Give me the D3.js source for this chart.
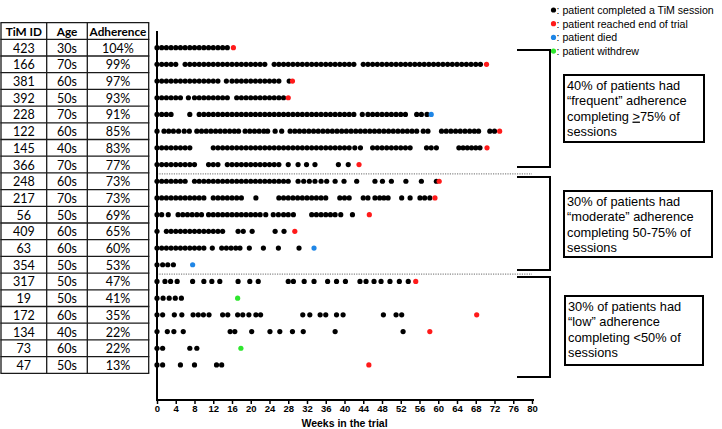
<!DOCTYPE html>
<html>
<head>
<meta charset="utf-8">
<script src="https://cdn.jsdelivr.net/npm/d3@7"></script>
<style>
  body { margin: 0; background: #fff; }
  svg { display: block; }
</style>
</head>
<body>
<svg id="chart" width="722" height="429"></svg>
<script>
// table columns
const patientIds = ["423","166","381","392","228","122","145","366","248","217","56","409","63","354","317","19","172","134","73","47"];
const ageGroups = ["30s","70s","60s","50s","70s","60s","40s","70s","60s","70s","50s","60s","60s","50s","50s","50s","60s","40s","60s","50s"];
const adherence = ["104%","99%","97%","93%","91%","85%","83%","77%","73%","73%","69%","65%","60%","53%","47%","41%","35%","22%","22%","13%"];

// week of each completed TiM session, one list per patient
const sessionWeeks = [
  [0,1,2,3,4,5,6,7,8,9,10,11,12,13,14,15],
  [0,1,2,3,4,6,7,8,9,10,11,12,13,14,15,16,17,18,19,20,21,22,23,25,26,27,28,29,30,31,32,33,34,35,36,37,38,39,40,41,42,44,45,46,47,48,49,50,51,52,53,54,55,56,57,58,59,60,61,62,63,64,65,66,67,68,69],
  [0,1,2,3,4,5,6,7,8,9,10,11,12,13,14.8,16,17,18,19,20,21,22,23,24,25,26,28.2],
  [0,1,2,3,4,5,6.7,8,9,10,11,12,13,14,15,17,18,19,20,21,22,23,24,25,26,27],
  [0,1,2,3,7,9,10,11,12,13,14,15,16,17,18,19,20,21,22,23,24,25,26,27,28,29,30,31,32,33,34,35,36,37,38,39,40,41,42,43.8,45,46,47,48,49,50,51,52,53,55.4,56.4,57.6],
  [0,1.5,2.5,3.5,4.6,5.8,6.9,8.5,9.5,10.5,11.5,12.5,13.5,14.5,15.5,16.5,17.4,18.8,19.8,20.8,21.8,22.8,23.6,25.2,26.6,28.4,29.4,30.4,31.4,32.4,33.4,34.4,35.4,36.4,37.4,38.4,39.4,40.4,41.4,42.4,43.4,44.4,45.4,46.4,47.4,48.4,49.4,50.4,51.4,52.4,53.4,54.4,55.4,56.8,57.8,60.7,61.7,62.7,63.7,64.7,65.7,66.7,67.7,68.6,71,72],
  [0,1,2,3,4,5,6,7,12,13,14,15,16,17,18,19,20,21,22,23,24,25,26,27,28,29,30,31,32,33,34,35,36,37,38,39,40,41,42.2,43.4,46,47,48,49,50,51,52,53,54,57.5,58.5,59.6,64.4,65.3,66.2,67.1,68,68.9],
  [0,1,2,3,4,5,6,7,8,11,12,13,15,16,17,18,19,20,21,22,23,24,25,26,28,30.1,31.9,33.7,38.7,40.8],
  [0,1,2,3,4,5,6,8,9,10,11,12,13,14,15,16,17,18,19,20,21,22,23,24,25,26,27,28,30.1,31.3,32.5,33.7,35,36.2,38,39.9,42.6,46.5,48.1,50,53.1,56.4,59.6],
  [0,1,2,3,4,5,6,7,8,9,10,12,13,14,15,16,17,18,21.1,26,27,28,29,30,31,32,33,34,35,36,39,40,41,44,45,46.5,47.5,48.4,49.3,52.2,54,56.1,57.1,58.2],
  [0,1,2.4,4.5,5.5,6.5,7.5,8.5,9.5,11,12,13,14,15,16,17,18,19,20,21,22,23.2,24.8,25.9,27,28,29.1,33,34,35,36,37,38,39.2,41.7],
  [0,2,3,4,5,6,7,8,9,10,11,12,13,14,17.3,18.4,20.3,25.2,27.1],
  [0,1,2,3,4,5,6,7,8,9,10,11.8,13.8,14.8,15.8,16.8,17.7,19.7,22.7,25.9,30.3],
  [0,1.2,2.3,3.5],
  [0,1.7,2.9,4.3,7.6,10,11.7,13.4,17.3,19.8,21.6,28,29.1,31.4,33.5,36.4,38.3,40.2,43.3,44.6,46.3,47.8,49.7,51.7,53.6],
  [0,1.3,2.6,3.9,5.2],
  [0,1.2,3.7,5.3,7.7,8.8,9.9,11.1,14,15.1,17.2,18.3,19.6,21.1,22.1,31.1,32.6,34.8,36,38.3,39.7,48.3,51,52.2],
  [0,2.2,3.6,5.6,15.6,16.6,20.2,24.1,26.2,28.9,31.2,38,52.5],
  [0,1.2,7,8.5],
  [0,1.2,5,8,12.7,13.8]
];

// last marker per patient
const endWeeks = [16.3,70.3,28.9,28,58.5,73.1,70.4,43.1,60.2,59.3,45.3,29.4,33.5,7.6,55.2,17.2,68.2,58.2,17.9,45.2];
const endOutcome = ["end","end","end","end","died","end","end","end","end","end","end","end","died","died","end","withdrew","end","end","withdrew","end"];

const outcomeKeys = ["session","end","died","withdrew"];
const outcomeLabels = [": patient completed a TiM session",": patient reached end of trial",": patient died",": patient withdrew"];
const outcomeColors = ["#000000","#ff1a1a","#1f86e6","#2ee62e"];

const weekTicks = [0,4,8,12,16,20,24,28,32,36,40,44,48,52,56,60,64,68,72,76,80];

const groupRows = [[0,7],[8,13],[14,19]];
const groupText = [
  [["40% of patients had"],["\u201cfrequent\u201d adherence"],["completing ", ">", "75% of"],["sessions"]],
  [["30% of patients had"],["\u201cmoderate\u201d adherence"],["completing 50-75% of"],["sessions"]],
  [["30% of patients had"],["\u201clow\u201d adherence"],["completing <50% of"],["sessions"]]
];

const svg = d3.select("#chart");
const color = d3.scaleOrdinal().domain(outcomeKeys).range(outcomeColors);

const x = d3.scaleLinear().domain([0, 80]).range([157, 532]);
const y = d3.scaleBand().domain(d3.range(patientIds.length)).range([39.3, 373.3]);
const rowY = i => y(i) + y.bandwidth() / 2;

// ---- table ----
const colEdges = [1, 46.7, 87.3, 148.7];
const headerTop = 22.7;
const table = svg.append("g");
const columns = [patientIds, ageGroups, adherence];
const headers = ["TiM ID", "Age", "Adherence"];

table.selectAll("line.h")
  .data(d3.range(patientIds.length + 2))
  .join("line")
  .attr("x1", colEdges[0] - 0.6).attr("x2", colEdges[3] + 0.6)
  .attr("y1", d => d === 0 ? headerTop : y.range()[0] + (d - 1) * y.bandwidth())
  .attr("y2", d => d === 0 ? headerTop : y.range()[0] + (d - 1) * y.bandwidth())
  .attr("stroke", "#1a1a1a").attr("stroke-width", 1.3);

table.selectAll("line.v")
  .data(colEdges)
  .join("line")
  .attr("x1", d => d).attr("x2", d => d)
  .attr("y1", headerTop).attr("y2", y.range()[1])
  .attr("stroke", "#1a1a1a").attr("stroke-width", 1.3);

headers.forEach((h, c) => {
  const cx = (colEdges[c] + colEdges[c + 1]) / 2;
  table.append("text")
    .attr("x", cx).attr("y", headerTop + y.bandwidth() / 2)
    .attr("text-anchor", "middle").attr("dominant-baseline", "central")
    .attr("font-family", "Lato, sans-serif").attr("font-weight", "bold")
    .attr("font-size", 11.8).text(h);
  table.append("g").selectAll("text")
    .data(columns[c])
    .join("text")
    .attr("x", cx).attr("y", (d, i) => rowY(i) + 0.5)
    .attr("text-anchor", "middle").attr("dominant-baseline", "central")
    .attr("font-family", "Lato, sans-serif").attr("font-size", 12.5)
    .text(d => d);
});

// ---- separators between groups ----
svg.append("g").selectAll("line")
  .data(groupRows.slice(1))
  .join("line")
  .attr("x1", x(0)).attr("x2", x(80))
  .attr("y1", d => y(d[0]) + 1).attr("y2", d => y(d[0]) + 1)
  .attr("stroke", "#444").attr("stroke-width", 0.8)
  .attr("stroke-dasharray", "1.2,1.2");

// ---- dots ----
const rows = svg.append("g")
  .selectAll("g")
  .data(sessionWeeks)
  .join("g")
  .attr("transform", (d, i) => `translate(0,${rowY(i)})`);

rows.selectAll("circle")
  .data(d => d)
  .join("circle")
  .attr("cx", d => x(d))
  .attr("r", 2.6)
  .attr("fill", color("session"));

svg.append("g").selectAll("circle")
  .data(endWeeks)
  .join("circle")
  .attr("cx", d => x(d))
  .attr("cy", (d, i) => rowY(i))
  .attr("r", 2.6)
  .attr("fill", (d, i) => color(endOutcome[i]));

// ---- axes ----
const xAxis = d3.axisBottom(x).tickValues(weekTicks).tickSize(4).tickSizeOuter(0);
const axisG = svg.append("g")
  .attr("transform", "translate(0,400)")
  .call(xAxis);
axisG.select(".domain").attr("stroke-width", 2).attr("d", `M${x(0) - 1},0H${x(80) + 2}`);
axisG.selectAll(".tick line").attr("stroke-width", 1.5);
axisG.selectAll(".tick text")
  .attr("font-family", "Liberation Sans, Arial, sans-serif")
  .attr("font-weight", "bold").attr("font-size", 9.5).attr("dy", "0.55em")
  .attr("fill", "#000");

svg.append("line")
  .attr("x1", x(0)).attr("x2", x(0))
  .attr("y1", 31).attr("y2", 401)
  .attr("stroke", "#000").attr("stroke-width", 2);

svg.append("text")
  .attr("x", x(40)).attr("y", 427)
  .attr("text-anchor", "middle")
  .attr("font-family", "Liberation Sans, Arial, sans-serif")
  .attr("font-weight", "bold").attr("font-size", 10.5)
  .text("Weeks in the trial");

// ---- legend ----
const legend = svg.append("g").selectAll("g")
  .data(outcomeKeys)
  .join("g")
  .attr("transform", (d, i) => `translate(553.5,${10 + i * 13.7})`);
legend.append("circle").attr("r", 2.6).attr("fill", d => color(d));
legend.append("text")
  .attr("x", 3).attr("dominant-baseline", "central")
  .attr("font-family", "Liberation Sans, Arial, sans-serif")
  .attr("font-size", 10.6)
  .text((d, i) => outcomeLabels[i]);

// ---- brackets and boxes ----
const bracketY = [[50, 167], [177, 270], [277, 377]];
const boxes = [[564, 75, 704, 142], [564, 191, 712, 257], [565, 296, 703, 365]];

bracketY.forEach((b, k) => {
  svg.append("path")
    .attr("d", `M517,${b[0]}H550V${b[1]}H517`)
    .attr("fill", "none").attr("stroke", "#000").attr("stroke-width", 2);

  const bx = boxes[k];
  svg.append("rect")
    .attr("x", bx[0]).attr("y", bx[1])
    .attr("width", bx[2] - bx[0]).attr("height", bx[3] - bx[1])
    .attr("fill", "#fff").attr("stroke", "#000").attr("stroke-width", 2);

  const t = svg.append("text")
    .attr("font-family", "Liberation Sans, Arial, sans-serif")
    .attr("font-size", 12.8);
  groupText[k].forEach((parts, li) => {
    const line = t.append("tspan")
      .attr("x", bx[0] + 3)
      .attr("y", bx[1] + 14.6 + li * 15.5);
    parts.forEach((p, pi) => {
      const s = pi === 0 ? line : t.append("tspan");
      s.text(p);
      if (p === ">") s.attr("text-decoration", "underline");
    });
  });
});
</script>
</body>
</html>
